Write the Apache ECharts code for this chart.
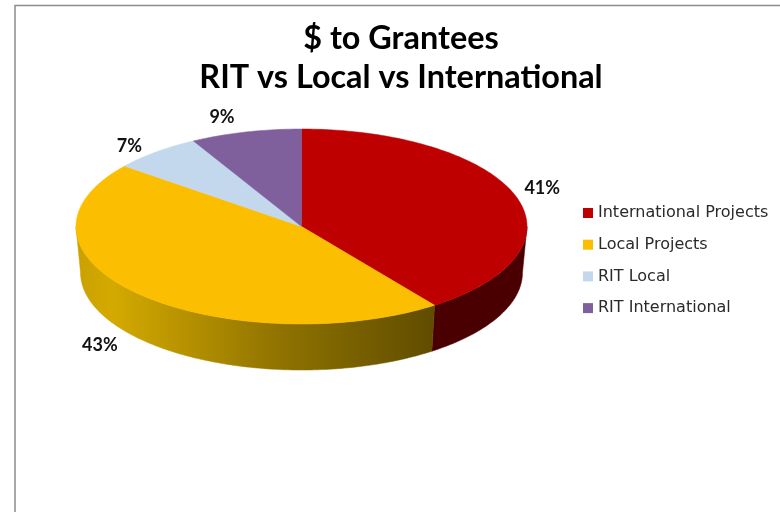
<!DOCTYPE html>
<html><head><meta charset="utf-8">
<style>html,body{margin:0;padding:0;background:#fff}#c{width:780px;height:512px}</style>
<script src="https://cdn.jsdelivr.net/npm/echarts@6/dist/echarts.min.js"></script>
</head><body><div id="c"></div>
<script>
const titleLines = ['$ to Grantees', 'RIT vs Local vs International'];
const categories = ['International Projects', 'Local Projects', 'RIT Local', 'RIT International'];
const values = [41, 43, 7, 9];
const colors = ['#BF0000', '#FBBE00', '#C3D7ED', '#7F609C'];

const geo = {cx: 301.5, cy: 226.5, rx: 225.5, ry: 97.5, depth: 46, bottomRx: 221, warp: 7};
const labelOffsets = [[33, 0], [-29, 56], [-27, -6], [-24, -15]];
const total = values.reduce((a, b) => a + b, 0);
const rad = d => d * Math.PI / 180;
const warp = d => d - geo.warp * Math.sin(rad(d));
const pt = (d, dy, rx) => [geo.cx + (rx || geo.rx) * Math.sin(rad(d)), geo.cy - geo.ry * Math.cos(rad(d)) + (dy || 0)];
function arc(a, b, dy, rx) {
  const out = [], n = Math.max(2, Math.ceil(Math.abs(b - a)));
  for (let i = 0; i <= n; i++) out.push(pt(a + (b - a) * i / n, dy, rx));
  return out;
}
function wallFill(i) {
  if (i === 0) return '#4A0000';
  return new echarts.graphic.LinearGradient(76, 0, 436, 0, [
    {offset: 0, color: '#C9A000'}, {offset: 0.1, color: '#D4AA00'},
    {offset: 0.57, color: '#8F7200'}, {offset: 1, color: '#5F4C00'}
  ], true);
}
function renderSlice(i) {
  return function (params, api) {
    const v = api.value(0);
    const before = values.slice(0, i).reduce((a, b) => a + b, 0);
    const a = warp(before / total * 360), b = warp((before + v) / total * 360);
    const mid = warp((before + v / 2) / total * 360);
    const children = [];
    const wa = Math.max(a, 90), wb = Math.min(b, 270);
    if (wb > wa) {
      const top = arc(wa, wb, 0), bot = arc(wa, wb, geo.depth, geo.bottomRx).reverse();
      const fill = wallFill(i);
      children.push({type: 'polygon', shape: {points: top.concat(bot)},
        style: {fill: fill, stroke: fill, lineWidth: 0.5}});
    }
    children.push({type: 'polygon', shape: {points: [[geo.cx, geo.cy]].concat(arc(a, b, 0))},
      style: {fill: colors[i], stroke: colors[i], lineWidth: 0.5}});
    const lp = pt(mid, 0);
    children.push({type: 'text', style: {
      x: lp[0] + labelOffsets[i][0], y: lp[1] + labelOffsets[i][1],
      text: Math.round(v / total * 100) + '%', fill: '#111',
      font: 'bold 18px Lato', align: 'center', verticalAlign: 'middle'}});
    return {type: 'group', children};
  };
}
const chart = echarts.init(document.getElementById('c'), null, {renderer: 'canvas'});
chart.setOption({
  animation: false,
  backgroundColor: '#fff',
  color: colors,
  title: {
    text: titleLines.join('\n'), left: 396, top: 14, textAlign: 'center',
    textStyle: {fontFamily: 'Lato', fontWeight: 'bold', fontSize: 32.4, lineHeight: 39, color: '#000'}
  },
  legend: {
    orient: 'vertical', left: 578, top: 200, itemWidth: 10, itemHeight: 10, itemGap: 15.7,
    icon: 'rect', data: categories,
    textStyle: {fontFamily: 'DejaVu Sans', fontSize: 16, color: '#2a2a2a', lineHeight: 16}
  },
  graphic: [{type: 'rect', silent: true, z: -1,
    shape: {x: 15, y: 5.5, width: 800, height: 540},
    style: {fill: '#fff', stroke: '#8c8c8c', lineWidth: 1.5}}],
  series: categories.map((name, i) => ({
    type: 'custom', name, coordinateSystem: 'none',
    itemStyle: {color: colors[i]},
    data: [[values[i]]], renderItem: renderSlice(i)
  }))
});
</script></body></html>
